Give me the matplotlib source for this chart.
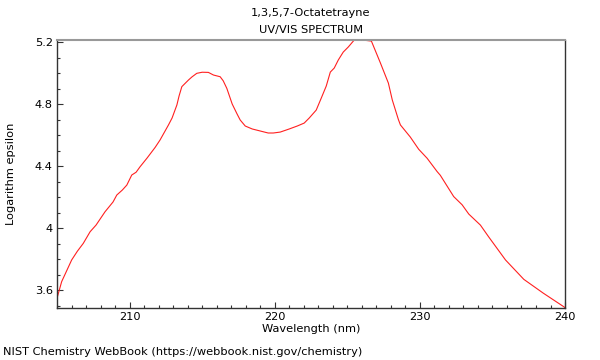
import matplotlib
matplotlib.use('Agg')
import matplotlib.pyplot as plt
from matplotlib.ticker import MultipleLocator, FormatStrFormatter

# spectrum points
wavelength = [204.98, 205.32, 205.69, 206.01, 206.4, 206.81, 207.28, 207.69, 208.31,
              208.86, 209.12, 209.5, 209.81, 210.15, 210.45, 210.72, 211.21, 211.76,
              212.1, 212.68, 212.93, 213.26, 213.41, 213.6, 214.06, 214.3, 214.63,
              215.0, 215.43, 215.78, 216.24, 216.45, 216.7, 217.07, 217.41, 217.62,
              217.97, 218.45, 219.0, 219.55, 219.9, 220.38, 221.0, 221.55, 222.03,
              222.38, 222.86, 223.21, 223.55, 223.83, 224.1, 224.38, 224.72, 225.07,
              225.48, 226.03, 226.66, 227.28, 227.83, 228.1, 228.52, 228.66, 229.34,
              229.92, 230.5, 231.19, 231.41, 232.33, 232.91, 233.37, 234.17, 234.74,
              235.9, 237.16, 238.5, 239.92, 240.0]
log_eps = [3.54, 3.654, 3.729, 3.794, 3.85, 3.901, 3.976, 4.019, 4.105,
           4.168, 4.213, 4.245, 4.277, 4.342, 4.36, 4.395, 4.452, 4.52,
           4.568, 4.665, 4.71, 4.794, 4.852, 4.912, 4.955, 4.975, 4.998,
           5.005, 5.004, 4.987, 4.976, 4.95, 4.901, 4.8, 4.735, 4.697,
           4.658, 4.639, 4.626, 4.613, 4.613, 4.619, 4.639, 4.658, 4.677,
           4.71, 4.761, 4.839, 4.916, 5.006, 5.032, 5.084, 5.135, 5.168,
           5.213, 5.213, 5.206, 5.065, 4.935, 4.826, 4.7, 4.665, 4.587,
           4.508, 4.45, 4.364, 4.34, 4.203, 4.15, 4.09, 4.019, 3.943,
           3.794, 3.669, 3.58, 3.492, 3.486]

title_lines = ['1,3,5,7-Octatetrayne', 'UV/VIS SPECTRUM']
x_label = 'Wavelength (nm)'
y_label = 'Logarithm epsilon'
footer = 'NIST Chemistry WebBook (https://webbook.nist.gov/chemistry)'

plt.rcParams['font.family'] = 'DejaVu Sans'
plt.rcParams['font.size'] = 8.2

fig = plt.figure(figsize=(6, 3.6), dpi=100)
ax = fig.add_axes([0.095, 0.1444, 0.8467, 0.7445])

ax.plot(wavelength, log_eps, color='#ff2020', linewidth=0.8)

ax.set_xlim(205, 240)
ax.set_ylim(3.484, 5.213)

ax.xaxis.set_major_locator(MultipleLocator(10))
ax.xaxis.set_minor_locator(MultipleLocator(1))
ax.yaxis.set_major_locator(MultipleLocator(0.4))
ax.yaxis.set_minor_locator(MultipleLocator(0.1))
ax.yaxis.set_major_formatter(FormatStrFormatter('%g'))

ax.tick_params(which='both', direction='in', top=False, right=False, color='#333333')
ax.tick_params(which='major', length=4, width=0.8, pad=3)
ax.tick_params(which='minor', length=2, width=0.8)

for side in ['left', 'bottom', 'right']:
    ax.spines[side].set_color('#333333')
    ax.spines[side].set_linewidth(1)
ax.spines['top'].set_color('#999999')
ax.spines['top'].set_linewidth(1.5)

ax.set_xlabel(x_label, labelpad=1)
ax.set_ylabel(y_label)
ax.yaxis.set_label_coords(-0.08, 0.5)

fig.text(0.518, 0.963, title_lines[0], ha='center', va='center')
fig.text(0.518, 0.916, title_lines[1], ha='center', va='center')
fig.text(0.005, 0.022, footer, ha='left', va='center')

fig.savefig('out.png', dpi=100)
